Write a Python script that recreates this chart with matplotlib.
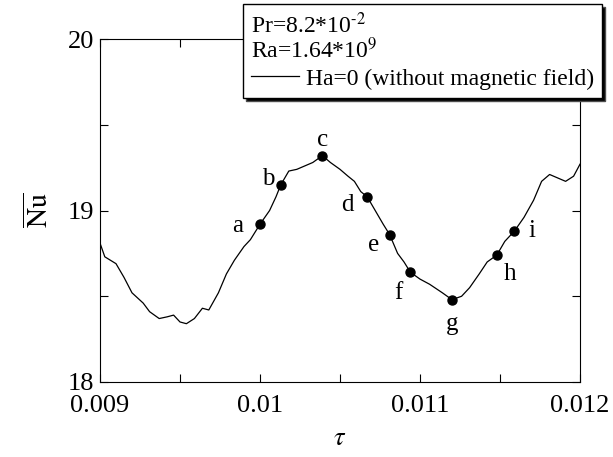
import numpy as np
import matplotlib
matplotlib.use('Agg')
import matplotlib.pyplot as plt
from matplotlib.ticker import MultipleLocator

# curve
tau = [0.009, 0.00903, 0.00910, 0.00915, 0.00920, 0.00927, 0.00931, 0.00937,
       0.00942, 0.00946, 0.00950, 0.00954, 0.00959, 0.00964, 0.00968, 0.00974,
       0.00979, 0.00984, 0.00990, 0.00994, 0.01000, 0.01006, 0.01010, 0.01013,
       0.01018, 0.01023, 0.01028, 0.01033, 0.01039, 0.01044, 0.01050, 0.01055,
       0.01059, 0.01063, 0.01067, 0.01072, 0.01077, 0.01081, 0.01086, 0.01090,
       0.01094, 0.01100, 0.01106, 0.01114, 0.01120, 0.01126, 0.01131, 0.01137,
       0.01142, 0.01148, 0.01153, 0.01159, 0.01165, 0.01171, 0.01176, 0.01181,
       0.01186, 0.01191, 0.01196, 0.01200]
nu = [18.81, 18.73, 18.69, 18.61, 18.52, 18.46, 18.41, 18.37,
      18.38, 18.39, 18.35, 18.34, 18.37, 18.43, 18.42, 18.52,
      18.63, 18.71, 18.79, 18.83, 18.92, 19.00, 19.08, 19.15,
      19.23, 19.24, 19.26, 19.28, 19.32, 19.28, 19.24, 19.20,
      19.17, 19.11, 19.08, 19.00, 18.92, 18.86, 18.75, 18.70,
      18.64, 18.60, 18.57, 18.52, 18.48, 18.50, 18.55, 18.63,
      18.70, 18.74, 18.82, 18.88, 18.96, 19.06, 19.17, 19.21,
      19.19, 19.17, 19.20, 19.27]

pt_labels = ['a', 'b', 'c', 'd', 'e', 'f', 'g', 'h', 'i']
pt_tau = [0.01000, 0.01013, 0.01039, 0.01067, 0.01081, 0.01094, 0.01120, 0.01148, 0.01159]
pt_nu = [18.92, 19.15, 19.32, 19.08, 18.86, 18.64, 18.48, 18.74, 18.88]

# label offsets (pixels)
offs = [(-22, -2), (-13, 6), (0, 16), (-20, -8), (-16, -10), (-12, -21), (0, -24), (13, -19), (18, 0)]

plt.rcParams['font.family'] = 'Liberation Serif'
plt.rcParams['mathtext.fontset'] = 'stix'

fig = plt.figure(figsize=(6.13, 4.57), dpi=100)
ax = fig.add_axes([100/613, 1-382/457, 480/613, 343/457])

ax.plot(tau, nu, color='black', lw=0.9, label='Ha=0 (without magnetic field)')
ax.plot(pt_tau, pt_nu, 'o', color='black', ms=6.5)
for lab, x, y, o in zip(pt_labels, pt_tau, pt_nu, offs):
    ax.annotate(lab, (x, y), xytext=o, textcoords='offset pixels',
                ha='center', va='center', fontsize=18)

ax.set_xlim(0.009, 0.012)
ax.set_ylim(18, 20)
ax.set_xticks([0.009, 0.01, 0.011, 0.012])
ax.set_xticklabels(['0.009', '0.01', '0.011', '0.012'])
ax.set_yticks([18, 19, 20])
ax.xaxis.set_minor_locator(MultipleLocator(0.0005))
ax.yaxis.set_minor_locator(MultipleLocator(0.5))
ax.tick_params(which='both', direction='in', top=True, right=True, length=6, width=0.8)
ax.tick_params(axis='x', labelsize=19, pad=9)
ax.tick_params(axis='y', labelsize=19, pad=4)
for s in ax.spines.values():
    s.set_linewidth(0.8)

ax.set_xlabel(r'$\tau$', fontsize=19, labelpad=8)
ax.set_ylabel(r'$\overline{\mathrm{Nu}}$', fontsize=20, labelpad=10)

leg = ax.legend(loc='upper right', bbox_to_anchor=(602/613, 1-4/457),
                bbox_transform=fig.transFigure,
                title='Pr=8.2*10$^{\\text{-}2}$\nRa=1.64*10$^{9}$', alignment='left',
                fontsize=17, title_fontsize=17, frameon=True, fancybox=False,
                shadow={'facecolor': 'black', 'alpha': 1},
                edgecolor='black', framealpha=1, handlelength=2.0,
                handletextpad=0.3, borderpad=0.35, labelspacing=0.2, borderaxespad=0)
leg.get_frame().set_linewidth(1.0)
leg.get_title().set_linespacing(1.0)

fig.savefig('out.png', dpi=100)
